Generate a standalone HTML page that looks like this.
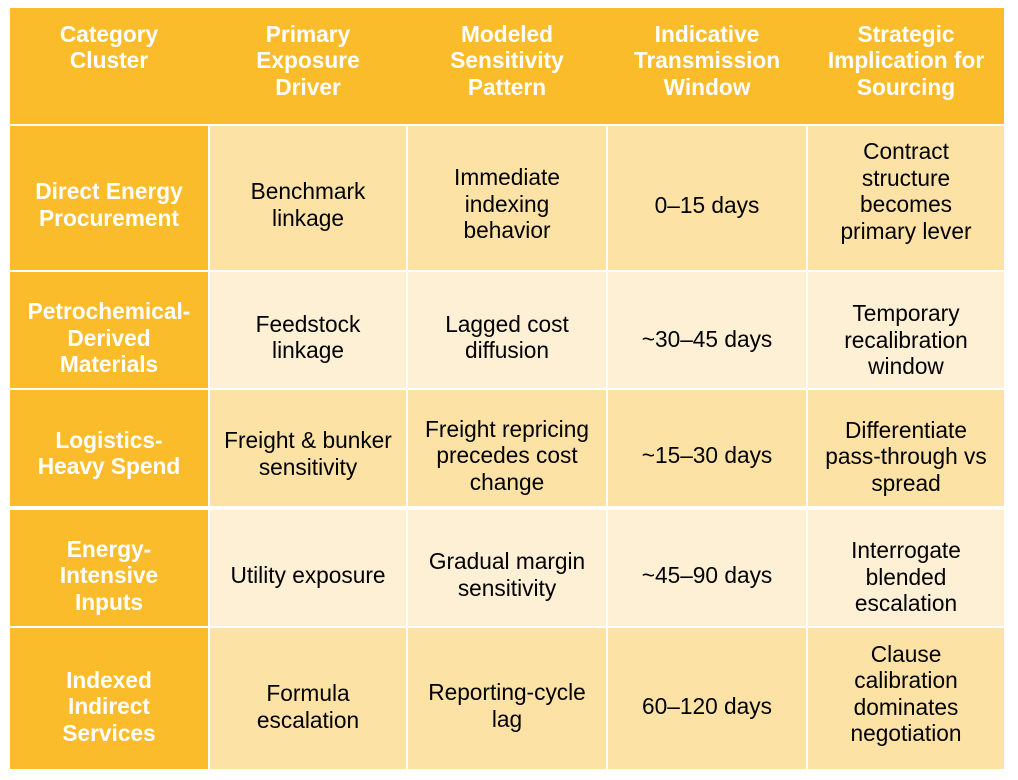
<!DOCTYPE html>
<html>
<head>
<meta charset="utf-8">
<style>
  html, body { margin: 0; padding: 0; background: #ffffff; }
  body { width: 1018px; height: 780px; position: relative; overflow: hidden;
         font-family: "Liberation Sans", Arial, sans-serif; }
  .r { position: absolute; }
  .o { background: #FBBC2C; }
  .a { background: #FDE2A6; }
  .b { background: #FEF0D4; }
  .t { position: absolute; text-align: center; font-size: 22.7px; line-height: 26.5px;
       white-space: nowrap; color: #000; }
  .h { color: #fff; font-weight: bold; }
  .c1 { left: 10px; width: 198px; }
  .c2 { left: 210px; width: 196px; }
  .c3 { left: 408px; width: 198px; }
  .c4 { left: 608px; width: 198px; }
  .c5 { left: 808px; width: 196px; }
</style>
</head>
<body>
  <!-- header -->
  <div class="r o" style="left:10px;top:8px;width:994px;height:116px;"></div>

  <!-- row 1: 126-270 -->
  <div class="r o c1" style="top:126px;height:144px;"></div>
  <div class="r a c2" style="top:126px;height:144px;"></div>
  <div class="r a c3" style="top:126px;height:144px;"></div>
  <div class="r a c4" style="top:126px;height:144px;"></div>
  <div class="r a c5" style="top:126px;height:144px;"></div>

  <!-- row 2: 272-388 -->
  <div class="r o c1" style="top:272px;height:116px;"></div>
  <div class="r b c2" style="top:272px;height:116px;"></div>
  <div class="r b c3" style="top:272px;height:116px;"></div>
  <div class="r b c4" style="top:272px;height:116px;"></div>
  <div class="r b c5" style="top:272px;height:116px;"></div>

  <!-- row 3: 390-506 -->
  <div class="r o c1" style="top:390px;height:116px;"></div>
  <div class="r a c2" style="top:390px;height:116px;"></div>
  <div class="r a c3" style="top:390px;height:116px;"></div>
  <div class="r a c4" style="top:390px;height:116px;"></div>
  <div class="r a c5" style="top:390px;height:116px;"></div>

  <!-- row 4: 510-626 -->
  <div class="r o c1" style="top:510px;height:116px;"></div>
  <div class="r b c2" style="top:510px;height:116px;"></div>
  <div class="r b c3" style="top:510px;height:116px;"></div>
  <div class="r b c4" style="top:510px;height:116px;"></div>
  <div class="r b c5" style="top:510px;height:116px;"></div>

  <!-- row 5: 628-769 -->
  <div class="r o c1" style="top:628px;height:141px;"></div>
  <div class="r a c2" style="top:628px;height:141px;"></div>
  <div class="r a c3" style="top:628px;height:141px;"></div>
  <div class="r a c4" style="top:628px;height:141px;"></div>
  <div class="r a c5" style="top:628px;height:141px;"></div>

  <!-- header text -->
  <div class="t h c1" style="top:20.6px;">Category<br>Cluster</div>
  <div class="t h c2" style="top:20.6px;">Primary<br>Exposure<br>Driver</div>
  <div class="t h c3" style="top:20.6px;">Modeled<br>Sensitivity<br>Pattern</div>
  <div class="t h c4" style="top:20.6px;">Indicative<br>Transmission<br>Window</div>
  <div class="t h c5" style="top:20.6px;">Strategic<br>Implication for<br>Sourcing</div>

  <!-- row 1 text -->
  <div class="t h c1" style="top:178px;">Direct Energy<br>Procurement</div>
  <div class="t c2" style="top:178px;">Benchmark<br>linkage</div>
  <div class="t c3" style="top:164px;">Immediate<br>indexing<br>behavior</div>
  <div class="t c4" style="top:192px;">0–15 days</div>
  <div class="t c5" style="top:138px;">Contract<br>structure<br>becomes<br>primary lever</div>

  <!-- row 2 text -->
  <div class="t h c1" style="top:298px;">Petrochemical-<br>Derived<br>Materials</div>
  <div class="t c2" style="top:310.6px;">Feedstock<br>linkage</div>
  <div class="t c3" style="top:310.6px;">Lagged cost<br>diffusion</div>
  <div class="t c4" style="top:325.6px;">~30–45 days</div>
  <div class="t c5" style="top:300px;">Temporary<br>recalibration<br>window</div>

  <!-- row 3 text -->
  <div class="t h c1" style="top:426.6px;">Logistics-<br>Heavy Spend</div>
  <div class="t c2" style="top:427px;">Freight &amp; bunker<br>sensitivity</div>
  <div class="t c3" style="top:415.6px;">Freight repricing<br>precedes cost<br>change</div>
  <div class="t c4" style="top:441.6px;">~15–30 days</div>
  <div class="t c5" style="top:416.6px;">Differentiate<br>pass-through vs<br>spread</div>

  <!-- row 4 text -->
  <div class="t h c1" style="top:535.6px;">Energy-<br>Intensive<br>Inputs</div>
  <div class="t c2" style="top:562.2px;">Utility exposure</div>
  <div class="t c3" style="top:548.2px;">Gradual margin<br>sensitivity</div>
  <div class="t c4" style="top:562.2px;">~45–90 days</div>
  <div class="t c5" style="top:537.2px;">Interrogate<br>blended<br>escalation</div>

  <!-- row 5 text -->
  <div class="t h c1" style="top:666.6px;">Indexed<br>Indirect<br>Services</div>
  <div class="t c2" style="top:680.2px;">Formula<br>escalation</div>
  <div class="t c3" style="top:679px;">Reporting-cycle<br>lag</div>
  <div class="t c4" style="top:693.2px;">60–120 days</div>
  <div class="t c5" style="top:640.6px;">Clause<br>calibration<br>dominates<br>negotiation</div>
</body>
</html>
